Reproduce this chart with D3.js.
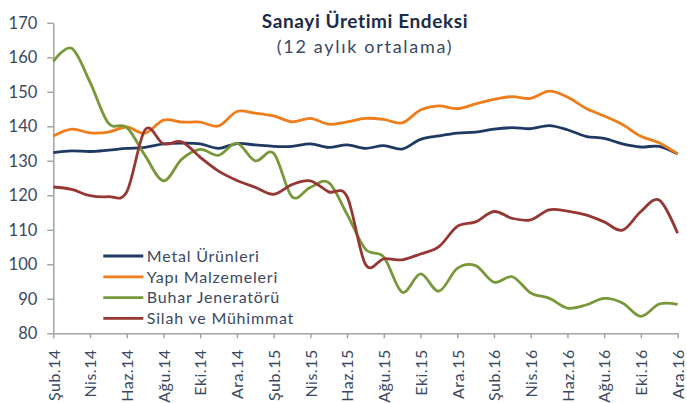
<!DOCTYPE html>
<html>
<head>
<meta charset="utf-8">
<script src="https://cdn.jsdelivr.net/npm/d3@7"></script>
<style>
  html, body { margin: 0; padding: 0; background: #fff; }
  svg { display: block; font-family: Lato, "Open Sans", sans-serif; }
</style>
</head>
<body>
<svg id="chart" width="687" height="403"></svg>
<script>
// Monthly index values, Feb 2014 – Dec 2016 (12-month moving average)
const months = [
  "Şub.14","Mar.14","Nis.14","May.14","Haz.14","Tem.14","Ağu.14","Eyl.14","Eki.14","Kas.14","Ara.14",
  "Oca.15","Şub.15","Mar.15","Nis.15","May.15","Haz.15","Tem.15","Ağu.15","Eyl.15","Eki.15","Kas.15","Ara.15",
  "Oca.16","Şub.16","Mar.16","Nis.16","May.16","Haz.16","Tem.16","Ağu.16","Eyl.16","Eki.16","Kas.16","Ara.16"
];
const tickMonths = months.filter((m, i) => i % 2 === 0);
const yTicks = [80, 90, 100, 110, 120, 130, 140, 150, 160, 170];

const metalUrunleri = [132.4, 132.9, 132.7, 133.1, 133.6, 133.9, 134.9, 135.1, 134.9, 133.6, 135.0,
  134.6, 134.2, 134.2, 134.9, 133.9, 134.6, 133.6, 134.4, 133.4, 136.2, 137.2, 138.0,
  138.3, 139.2, 139.6, 139.3, 140.2, 139.0, 137.1, 136.5, 134.9, 134.0, 134.2, 132.0];
const yapiMalzemeleri = [137.2, 139.2, 138.1, 138.3, 139.8, 138.0, 141.8, 141.2, 141.2, 140.1, 144.3,
  143.8, 143.0, 141.3, 142.3, 140.6, 141.3, 142.3, 142.0, 141.0, 144.7, 145.9, 145.1,
  146.5, 147.8, 148.6, 148.1, 150.2, 148.5, 145.2, 143.0, 140.5, 137.1, 135.2, 132.0];
const buharJeneratoru = [158.8, 162.6, 152.8, 140.9, 139.7, 131.5, 124.2, 130.5, 133.3, 131.6, 135.1,
  130.0, 132.2, 119.6, 122.3, 123.7, 114.5, 104.4, 102.1, 91.9, 97.2, 92.2, 98.8,
  99.6, 94.8, 96.4, 91.7, 90.2, 87.3, 88.2, 90.1, 88.8, 84.9, 88.5, 88.4];
const silahMuhimmat = [122.4, 121.7, 119.9, 119.6, 121.0, 139.0, 134.9, 135.5, 131.0, 127.0, 124.3,
  122.3, 120.3, 123.1, 124.2, 121.0, 119.6, 100.0, 101.6, 101.3, 103.0, 105.1, 111.0,
  112.3, 115.3, 113.3, 112.9, 115.8, 115.4, 114.3, 112.3, 109.9, 115.3, 118.6, 109.0];

const seriesNames = ["Metal Ürünleri", "Yapı Malzemeleri", "Buhar Jeneratörü", "Silah ve Mühimmat"];
const seriesValues = [metalUrunleri, yapiMalzemeleri, buharJeneratoru, silahMuhimmat];
const seriesColors = ["#1f3a62", "#f07d1c", "#78983a", "#973734"];

const svg = d3.select("#chart");
const plotLeft = 53.3, plotRight = 677.6, plotTop = 22.8, plotBottom = 333.3;

const x = d3.scalePoint().domain(months).range([plotLeft, plotRight]);
const y = d3.scaleLinear().domain([80, 170]).range([plotBottom, plotTop]);

const axisColor = "#a3a3a3";
const textColor = "#3a4963";

// Y axis
const yAxis = svg.append("g")
  .attr("transform", `translate(${plotLeft},0)`)
  .call(d3.axisLeft(y).tickValues(yTicks).tickSize(6).tickPadding(10).tickSizeOuter(0));
yAxis.select(".domain").attr("stroke", axisColor).attr("stroke-width", 1.5);
yAxis.selectAll(".tick line").attr("stroke", axisColor).attr("stroke-width", 1.5);
yAxis.selectAll(".tick text")
  .attr("fill", textColor).style("font-size", "16.5px").style("font-family", "Lato");

// X axis
const xAxis = svg.append("g")
  .attr("transform", `translate(0,${plotBottom})`)
  .call(d3.axisBottom(x).tickValues(tickMonths).tickSize(5).tickSizeOuter(0));
xAxis.select(".domain").attr("stroke", axisColor).attr("stroke-width", 1.5);
xAxis.selectAll(".tick line").attr("stroke", axisColor).attr("stroke-width", 1.5);
xAxis.selectAll(".tick text")
  .attr("fill", textColor).style("font-size", "16px").style("font-family", "Lato")
  .style("letter-spacing", "0.5px")
  .attr("transform", "rotate(-90)")
  .attr("text-anchor", "end")
  .attr("x", -16).attr("y", 0).attr("dy", "0.36em");

// Lines
const line = d3.line()
  .x((d, i) => x(months[i]))
  .y(d => y(d))
  .curve(d3.curveCardinal.tension(0));

svg.append("g").selectAll("path")
  .data(seriesValues)
  .join("path")
  .attr("d", d => line(d))
  .attr("fill", "none")
  .attr("stroke", (d, i) => seriesColors[i])
  .attr("stroke-width", 2.8)
  .attr("stroke-linejoin", "round");

// Legend
const legend = svg.append("g").attr("transform", "translate(103.3,256)");
const rows = legend.selectAll("g").data(seriesNames).join("g")
  .attr("transform", (d, i) => `translate(0,${i * 20.8})`);
rows.append("line")
  .attr("x1", 0).attr("x2", 40).attr("y1", 0).attr("y2", 0)
  .attr("stroke", (d, i) => seriesColors[i]).attr("stroke-width", 2.8);
rows.append("text")
  .attr("x", 43.5).attr("y", 0).attr("dy", "0.36em")
  .attr("fill", textColor).style("font-size", "16px").style("letter-spacing", "0.8px")
  .text(d => d);

// Title
svg.append("text")
  .attr("x", 365).attr("y", 28.3).attr("text-anchor", "middle")
  .attr("fill", "#1b2c48").style("font-size", "19px").style("font-weight", "bold")
  .style("letter-spacing", "0.6px")
  .text("Sanayi Üretimi Endeksi");
svg.append("text")
  .attr("x", 365).attr("y", 52.5).attr("text-anchor", "middle")
  .attr("fill", textColor).style("font-size", "18px").style("letter-spacing", "1.7px")
  .text("(12 aylık ortalama)");
</script>
</body>
</html>
